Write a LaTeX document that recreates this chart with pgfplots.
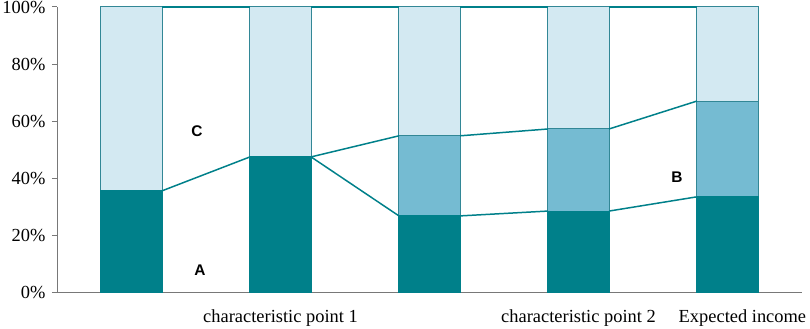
\documentclass[border=0pt]{standalone}
\usepackage{fontspec}
\setmainfont{Liberation Serif}
\newfontfamily\arialfont{Liberation Sans}
\usepackage{pgfplots}
\pgfplotsset{compat=1.18}
\definecolor{cdark}{RGB}{0,128,138}
\definecolor{cmid}{RGB}{117,187,210}
\definecolor{clight}{RGB}{211,233,242}
\definecolor{cedge}{RGB}{50,135,150}
\definecolor{cline}{RGB}{0,128,138}
\definecolor{caxis}{RGB}{120,120,120}
\begin{document}
\begin{tikzpicture}
\begin{axis}[
  name=ax,
  scale only axis,
  width=745bp, height=285bp,
  xmin=-0.5, xmax=4.5,
  ymin=0, ymax=100,
  clip=false,
  axis lines=left,
  axis line style={draw=caxis, line width=1pt, -},
  xtick={1,3,4.1},
  xticklabels={characteristic point 1, characteristic point 2, Expected income},
  x tick style={draw=none},
  ytick={0,20,40,60,80,100},
  yticklabel={\pgfmathprintnumber{\tick}\%},
  y tick style={draw=caxis, line width=1pt},
  tick align=outside,
  major tick length=5bp,
  /pgf/number format/assume math mode=true,
  tick label style={font=\fontsize{18.5}{22}\selectfont},
  yticklabel style={xshift=-3bp},
  xticklabel style={yshift=-9bp},
]
% bars (cumulative values, drawn back to front)
\addplot[ybar, bar width=0.41, bar shift=0pt, fill=clight, draw=cedge, line width=1pt]
  coordinates {(0,100) (1,100) (2,100) (3,100) (4,100)};
\addplot[ybar, bar width=0.41, bar shift=0pt, fill=cmid, draw=cedge, line width=1pt]
  coordinates {(2,54.8) (3,57.2) (4,67.0)};
\addplot[ybar, bar width=0.41, bar shift=0pt, fill=cdark, draw=cdark, line width=1pt]
  coordinates {(0,35.5) (1,47.4) (2,26.7) (3,28.4) (4,33.4)};
% series lines
\addplot[cline, line width=1.5pt, mark=none] coordinates {(0.205,35.5) (0.795,47.4)};
\addplot[cline, line width=1.5pt, mark=none] coordinates {(1.205,47.4) (1.795,26.7)};
\addplot[cline, line width=1.5pt, mark=none] coordinates {(2.205,26.7) (2.795,28.4)};
\addplot[cline, line width=1.5pt, mark=none] coordinates {(3.205,28.4) (3.795,33.4)};
\addplot[cline, line width=1.5pt, mark=none] coordinates {(1.205,47.4) (1.795,54.8)};
\addplot[cline, line width=1.5pt, mark=none] coordinates {(2.205,54.8) (2.795,57.2)};
\addplot[cline, line width=1.5pt, mark=none] coordinates {(3.205,57.2) (3.795,67.0)};
\addplot[cline, line width=1.5pt, mark=none] coordinates {(0.205,100) (0.795,100)};
\addplot[cline, line width=1.5pt, mark=none] coordinates {(1.205,100) (1.795,100)};
\addplot[cline, line width=1.5pt, mark=none] coordinates {(2.205,100) (2.795,100)};
\addplot[cline, line width=1.5pt, mark=none] coordinates {(3.205,100) (3.795,100)};
\node[font=\arialfont\bfseries\fontsize{15.5}{18}\selectfont] at (axis cs:0.44,56.5) {C};
\node[font=\arialfont\bfseries\fontsize{15.5}{18}\selectfont] at (axis cs:0.46,7.7) {A};
\node[font=\arialfont\bfseries\fontsize{15.5}{18}\selectfont] at (axis cs:3.66,40.4) {B};
\end{axis}
\pgfresetboundingbox
\path ([shift={(-57bp,-36bp)}]ax.south west) rectangle ([shift={(8bp,7bp)}]ax.north east);
\end{tikzpicture}
\end{document}
